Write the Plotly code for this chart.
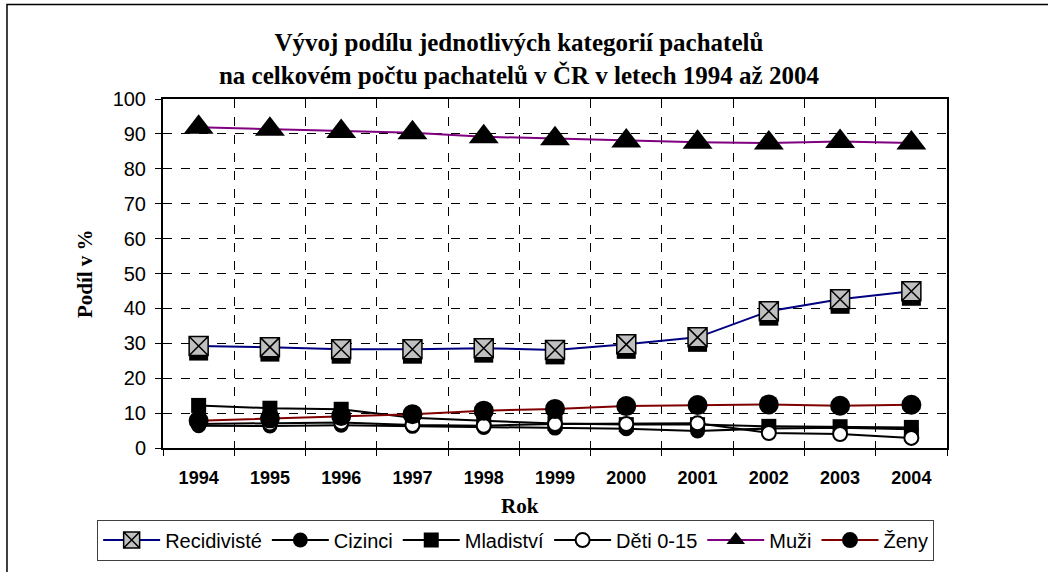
import plotly.graph_objects as go

years = ["1994", "1995", "1996", "1997", "1998", "1999", "2000", "2001", "2002", "2003", "2004"]
recidiviste = [29.2, 28.9, 28.3, 28.3, 28.6, 28.1, 29.7, 31.7, 39.2, 42.6, 44.9]
cizinci = [6.4, 6.3, 6.5, 6.2, 5.9, 5.7, 5.5, 4.9, 5.6, 5.8, 5.4]
mladistvi = [12.2, 11.4, 11.1, 8.7, 7.8, 7.0, 6.7, 6.7, 6.2, 6.1, 5.9]
deti = [6.9, 7.0, 7.3, 6.6, 6.4, 6.9, 6.9, 7.1, 4.3, 4.0, 2.9]
muzi = [91.9, 91.3, 90.7, 90.3, 89.2, 88.6, 88.0, 87.6, 87.4, 87.8, 87.4]
zeny = [7.8, 8.5, 9.2, 9.7, 10.7, 11.2, 12.0, 12.3, 12.5, 12.1, 12.4]

SERIF = "Liberation Serif, Times New Roman, serif"
SANS = "Liberation Sans, Arial, sans-serif"

# plot area in pixels (used for the shadow axes offset)
PW, PH = 784, 351
SH = 5  # shadow offset px

fig = go.Figure()

# drop shadow of the Recidivisté markers, on hidden axes shifted by a few px
fig.add_trace(go.Scatter(
    x=years, y=recidiviste, mode="markers", xaxis="x", yaxis="y",
    marker=dict(symbol="square", size=19, color="black"),
    showlegend=False, hoverinfo="skip", cliponaxis=False,
))

main = dict(xaxis="x2", yaxis="y2", cliponaxis=False)
fig.add_trace(go.Scatter(
    x=years, y=recidiviste, name="Recidivisté", mode="lines+markers",
    line=dict(color="#000080", width=2),
    marker=dict(symbol="square-x", size=19, color="#C0C0C0",
                line=dict(color="black", width=1.5)),
    **main))
fig.add_trace(go.Scatter(
    x=years, y=cizinci, name="Cizinci", mode="lines+markers",
    line=dict(color="black", width=2),
    marker=dict(symbol="circle", size=15, color="black"),
    **main))
fig.add_trace(go.Scatter(
    x=years, y=mladistvi, name="Mladiství", mode="lines+markers",
    line=dict(color="black", width=2),
    marker=dict(symbol="square", size=15, color="black"),
    **main))
fig.add_trace(go.Scatter(
    x=years, y=deti, name="Děti 0-15", mode="lines+markers",
    line=dict(color="black", width=2),
    marker=dict(symbol="circle", size=14, color="white",
                line=dict(color="black", width=2)),
    **main))
fig.add_trace(go.Scatter(
    x=years, y=muzi, name="Muži", mode="lines+markers",
    line=dict(color="#800080", width=2),
    marker=dict(symbol="triangle-up", size=26, color="black"),
    **main))
fig.add_trace(go.Scatter(
    x=years, y=zeny, name="Ženy", mode="lines+markers",
    line=dict(color="#800000", width=2),
    marker=dict(symbol="circle", size=20, color="black"),
    **main))

fig.update_layout(
    width=1048, height=572,
    margin=dict(l=163, r=101, t=99, b=122),
    paper_bgcolor="white",
    plot_bgcolor="rgba(0,0,0,0)",
    font=dict(family=SANS, color="black"),
    title=dict(
        text="<b>Vývoj podílu jednotlivých kategorií pachatelů<br>"
             "na celkovém počtu pachatelů v ČR v letech 1994 až 2004</b>",
        font=dict(family=SERIF, size=25, color="black"),
        xref="paper", x=0.454, xanchor="center",
        yref="container", y=0.91, yanchor="top",
    ),
    xaxis=dict(
        type="category", categoryarray=years, visible=False,
        domain=[SH / PW, 1], range=[-0.5 + SH * 11 / PW, 10.5],
    ),
    yaxis=dict(
        visible=False, domain=[0, 1 - SH / PH], range=[SH * 100 / PH, 100],
    ),
    xaxis2=dict(
        type="category", categoryarray=years, domain=[0, 1], range=[-0.5, 10.5],
        anchor="y2",
        tickson="boundaries", ticks="outside", ticklen=6, tickcolor="black",
        showgrid=True, gridcolor="black", griddash="dash", gridwidth=1,
        showline=True, linecolor="black", linewidth=2, mirror=True,
        tickfont=dict(family=SANS, size=18, color="black", weight="bold"),
        ticklabelstandoff=12,
    ),
    yaxis2=dict(
        domain=[0, 1], range=[0, 100], anchor="x2",
        tickmode="linear", tick0=0, dtick=10,
        ticks="outside", ticklen=6, tickcolor="black",
        showgrid=True, gridcolor="black", griddash="dash", gridwidth=1,
        showline=True, linecolor="black", linewidth=2, mirror=True,
        zeroline=False,
        tickfont=dict(family=SANS, size=20, color="black"),
        ticklabelstandoff=5,
    ),
    legend=dict(
        orientation="h", x=-0.084, xanchor="left", y=-0.205, yanchor="top",
        bordercolor="#404040", borderwidth=1,
        font=dict(family=SANS, size=20, color="black"),
        itemwidth=57, tracegroupgap=0,
    ),
    annotations=[
        dict(text="<b>Podíl v %</b>", textangle=-90, xref="paper", yref="paper",
             x=-0.1, xanchor="center", y=0.5, showarrow=False,
             font=dict(family=SERIF, size=21, color="black")),
        dict(text="<b>Rok</b>", xref="paper", yref="paper",
             x=0.455, y=-0.165, yanchor="middle", showarrow=False,
             font=dict(family=SERIF, size=21, color="black")),
    ],
    shapes=[
        dict(type="rect", xref="paper", yref="paper",
             x0=-0.199, x1=1.3, y0=-0.6, y1=1.2707,
             line=dict(color="black", width=1.5), layer="below"),
    ],
)

fig.write_html("out.html",
               config={"displayModeBar": False},
               post_script="document.body.style.margin='0';"
                           "document.body.style.overflow='hidden';")
